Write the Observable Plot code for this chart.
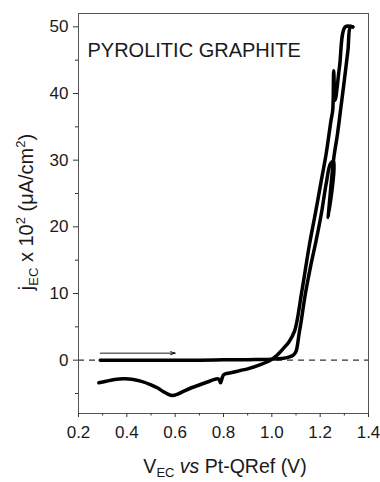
<!DOCTYPE html>
<html>
<head>
<meta charset="utf-8">
<script src="https://cdn.jsdelivr.net/npm/d3@7"></script>
<script src="https://cdn.jsdelivr.net/npm/@observablehq/plot@0.6"></script>
<style>
  html, body { margin: 0; padding: 0; background: #fff; }
  #chart svg { display: block; }
</style>
</head>
<body>
<div id="chart"></div>
<script>
// Forward (anodic) scan: potential (V) and current density (x10^2 µA/cm²)
const fwdV = [0.29, 0.40, 0.50, 0.60, 0.70, 0.80, 0.90, 0.95, 1.00, 1.04, 1.07, 1.09, 1.10, 1.107, 1.113, 1.12, 1.139, 1.16, 1.183, 1.205, 1.225, 1.243, 1.256, 1.233, 1.257, 1.27, 1.284, 1.30, 1.315, 1.325, 1.335];
const fwdJ = [0.0, 0.0, 0.0, 0.0, 0.0, 0.05, 0.08, 0.1, 0.15, 0.25, 0.45, 0.8, 1.3, 2.5, 4.0, 5.5, 10.0, 14.0, 17.9, 22.0, 26.5, 29.5, 29.8, 21.4, 30.5, 33.5, 37.4, 42.0, 46.5, 50.0, 50.0];
// Reverse (cathodic) scan
const revV = [1.335, 1.304, 1.28, 1.262, 1.256, 1.252, 1.245, 1.225, 1.205, 1.18, 1.155, 1.124, 1.094, 1.07, 1.05, 1.02, 0.994, 0.95, 0.90, 0.87, 0.83, 0.808, 0.80, 0.795, 0.788, 0.782, 0.774, 0.74, 0.705, 0.67, 0.636, 0.61, 0.588, 0.57, 0.55, 0.526, 0.50, 0.457, 0.42, 0.388, 0.35, 0.31, 0.284];
const revJ = [50.0, 50.0, 44.0, 39.0, 43.4, 37.5, 36.0, 31.0, 27.0, 22.0, 17.2, 10.3, 4.35, 2.7, 1.85, 0.7, 0.0, -0.7, -1.3, -1.55, -1.9, -2.05, -2.2, -2.6, -3.4, -2.9, -2.8, -3.2, -3.65, -4.1, -4.65, -5.1, -5.3, -5.1, -4.7, -4.15, -3.7, -3.15, -2.85, -2.8, -2.9, -3.2, -3.4];
// Scan direction arrow
const arrowV = [0.29, 0.60];
const arrowJ = [1.05, 1.05];
// Axis ticks
const xMajor = [0.2, 0.4, 0.6, 0.8, 1.0, 1.2, 1.4];
const xMinor = [0.3, 0.5, 0.7, 0.9, 1.1, 1.3];
const yMajor = [0, 10, 20, 30, 40, 50];
const yMinor = [-5, 5, 15, 25, 35, 45];
const titleText = "PYROLITIC GRAPHITE";

const fwd = fwdV.map((v, i) => ({v, j: fwdJ[i]}));
const rev = revV.map((v, i) => ({v, j: revJ[i]}));

const W = 380, H = 482;
const mL = 78, mR = 12, mT = 13, mB = 69;
const ink = "#1a1a1a";
const font = "'Liberation Sans', Arial, sans-serif";

const plot = Plot.plot({
  width: W, height: H,
  marginLeft: mL, marginRight: mR, marginTop: mT, marginBottom: mB,
  style: {fontFamily: font, fontSize: "17px", color: ink, background: "#fff"},
  x: {domain: [0.2, 1.4]},
  y: {domain: [-8, 52]},
  marks: [
    Plot.ruleY([0], {stroke: "#333", strokeWidth: 1.3, strokeDasharray: "6,5"}),
    Plot.line(fwd, {x: "v", y: "j", stroke: "#000", strokeWidth: 3.5, curve: "catmull-rom", strokeLinejoin: "round", strokeLinecap: "round"}),
    Plot.line(rev, {x: "v", y: "j", stroke: "#000", strokeWidth: 3.5, curve: "catmull-rom", strokeLinejoin: "round", strokeLinecap: "round"}),
    Plot.arrow([{x1: arrowV[0], x2: arrowV[1], y1: arrowJ[0], y2: arrowJ[1]}], {x1: "x1", x2: "x2", y1: "y1", y2: "y2", stroke: "#000", strokeWidth: 0.9, headLength: 8, headAngle: 35}),
    Plot.text([titleText], {frameAnchor: "top-left", dx: 9, dy: 29, fontSize: 20, fill: ink, textAnchor: "start"}),
    Plot.frame({stroke: "#555", strokeWidth: 1}),
    Plot.axisX({ticks: xMajor, tickSize: 4, tickPadding: 8, tickFormat: d3.format(".1f"), label: null, stroke: "#333"}),
    Plot.axisX({ticks: xMinor, tickSize: 2.5, tickFormat: () => "", label: null, stroke: "#333"}),
    Plot.axisY({ticks: yMajor, tickSize: 5, tickPadding: 5, tickFormat: d3.format("d"), label: null, stroke: "#333"}),
    Plot.axisY({ticks: yMinor, tickSize: 3, tickFormat: () => "", label: null, stroke: "#333"})
  ]
});

document.getElementById("chart").appendChild(plot);

// Axis titles with subscripts/superscripts, as real text
const svg = d3.select(plot);
const xl = svg.append("text")
  .attr("x", 225).attr("y", 473)
  .attr("text-anchor", "middle")
  .attr("fill", ink)
  .style("font-size", "19.5px")
  .style("font-family", font);
xl.append("tspan").text("V");
xl.append("tspan").attr("dy", 4).style("font-size", "13px").text("EC");
xl.append("tspan").attr("dy", -4).text(" ");
xl.append("tspan").style("font-style", "italic").text("vs");
xl.append("tspan").text(" Pt-QRef (V)");

const yl = svg.append("text")
  .attr("transform", "translate(33,212) rotate(-90)")
  .attr("text-anchor", "middle")
  .attr("fill", ink)
  .style("font-size", "20px")
  .style("font-family", font);
yl.append("tspan").text("j");
yl.append("tspan").attr("dy", 5).style("font-size", "13px").text("EC");
yl.append("tspan").attr("dy", -5).text(" x 10");
yl.append("tspan").attr("dy", -8).style("font-size", "13px").text("2");
yl.append("tspan").attr("dy", 8).text(" (\u03BCA/cm");
yl.append("tspan").attr("dy", -8).style("font-size", "13px").text("2");
yl.append("tspan").attr("dy", 8).text(")");
</script>
</body>
</html>
